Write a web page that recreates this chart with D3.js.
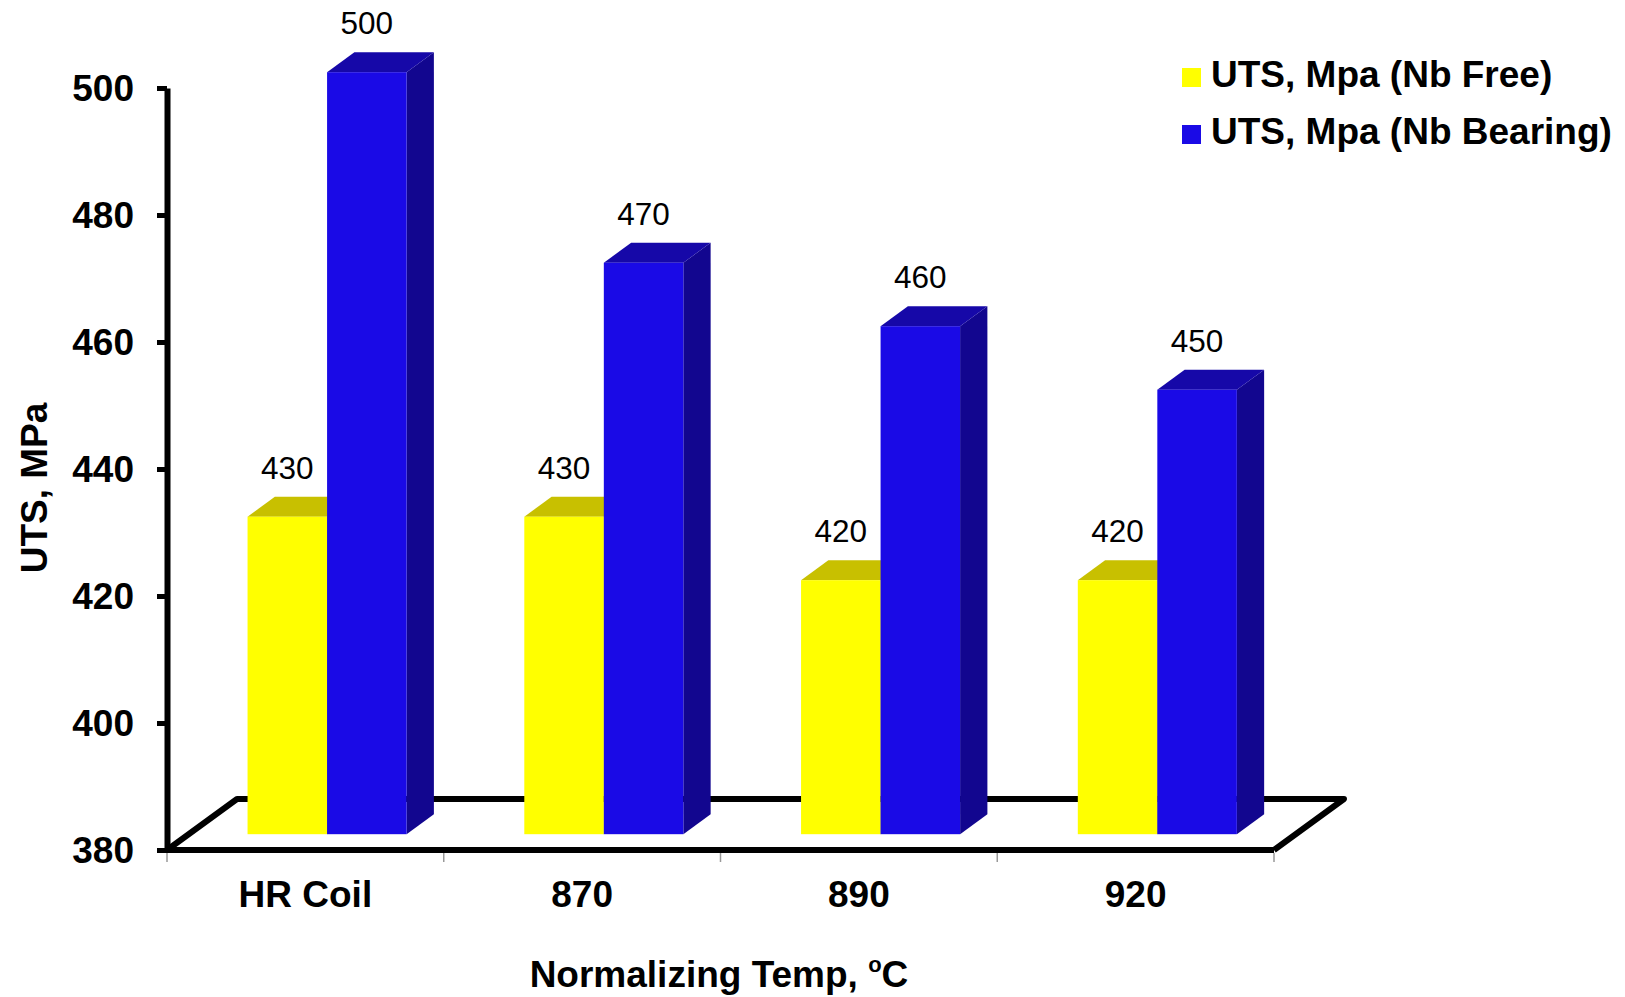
<!DOCTYPE html>
<html>
<head>
<meta charset="utf-8">
<script src="https://cdn.jsdelivr.net/npm/d3@7"></script>
<style>
  html, body { margin: 0; padding: 0; background: #fff; }
  svg { display: block; font-family: "Liberation Sans", Arial, sans-serif; }
</style>
</head>
<body>
<svg id="chart" width="1625" height="997"></svg>
<script>
// Ultimate tensile strength by normalizing temperature
const categories = ["HR Coil", "870", "890", "920"];
const seriesNames = ["UTS, Mpa (Nb Free)", "UTS, Mpa (Nb Bearing)"];
const nbFree = [430, 430, 420, 420];
const nbBearing = [500, 470, 460, 450];
const yTicks = [380, 400, 420, 440, 460, 480, 500];

const seriesValues = [nbFree, nbBearing];
const faceColors = [
  { front: "#ffff00", top: "#c8c000", side: "#a8a000" },
  { front: "#1a0ae6", top: "#1608a8", side: "#12068f" }
];

const svg = d3.select("#chart");
const boldSize = 37;

// plot frame (front plane of the 3-D floor)
const plotLeft = 167, plotRight = 1274, plotBottom = 850, plotTop = 88;
const depth = { dx: 70, dy: -51 };       // floor depth vector
const barFront = 0.31, barBack = 0.70;   // bar position within the depth

const y = d3.scaleLinear().domain([380, 500]).range([plotBottom, plotTop]);
const x = d3.scaleBand().domain(categories).range([plotLeft, plotRight]).padding(0);
const xs = d3.scaleBand().domain(seriesNames).range([0, x.bandwidth()])
  .paddingInner(0).paddingOuter(0.74);

const fx = depth.dx * barFront, fy = depth.dy * barFront;
const bdx = depth.dx * (barBack - barFront), bdy = depth.dy * (barBack - barFront);

// floor outline
svg.append("path")
  .attr("d", `M${plotLeft},${plotBottom} L${plotLeft + depth.dx},${plotBottom + depth.dy} L${plotRight + depth.dx},${plotBottom + depth.dy} L${plotRight},${plotBottom}`)
  .attr("fill", "none").attr("stroke", "#000").attr("stroke-width", 6)
  .attr("stroke-linejoin", "round");

// bars
categories.forEach((c, i) => {
  seriesNames.forEach((s, k) => {
    const v = seriesValues[k][i];
    const x0 = x(c) + xs(s) + fx, x1 = x0 + xs.bandwidth();
    const yt = y(v) + fy, yb = y(380) + fy;
    const col = faceColors[k];
    const g = svg.append("g").attr("class", "bar");
    g.append("polygon")
      .attr("points", [[x1, yt], [x1 + bdx, yt + bdy], [x1 + bdx, yb + bdy], [x1, yb]].join(" "))
      .attr("fill", col.side);
    g.append("polygon")
      .attr("points", [[x0, yt], [x1, yt], [x1 + bdx, yt + bdy], [x0 + bdx, yt + bdy]].join(" "))
      .attr("fill", col.top);
    g.append("rect")
      .attr("x", x0).attr("y", yt).attr("width", x1 - x0).attr("height", yb - yt)
      .attr("fill", col.front);
    g.append("text")
      .attr("x", (x0 + x1) / 2).attr("y", yt + bdy - 18)
      .attr("text-anchor", "middle").attr("font-size", 31.5).attr("fill", "#000")
      .text(v);
  });
});

// front edge of the floor (x axis line)
svg.append("line")
  .attr("x1", plotLeft).attr("x2", plotRight).attr("y1", plotBottom).attr("y2", plotBottom)
  .attr("stroke", "#000").attr("stroke-width", 6);

// category boundary ticks
const bounds = categories.map(c => x(c)).concat([x.range()[1]]);
svg.selectAll(".xtick").data(bounds).join("line")
  .attr("class", "xtick")
  .attr("x1", d => d).attr("x2", d => d)
  .attr("y1", plotBottom + 3).attr("y2", plotBottom + 12)
  .attr("stroke", "#999").attr("stroke-width", 1.5);

// category labels
svg.selectAll(".xlab").data(categories).join("text")
  .attr("class", "xlab")
  .attr("x", d => x(d) + x.bandwidth() / 2).attr("y", 907)
  .attr("text-anchor", "middle").attr("font-size", boldSize).attr("font-weight", "bold")
  .text(d => d);

// y axis
const yAxis = d3.axisLeft(y).tickValues(yTicks).tickSize(10).tickSizeOuter(0).tickPadding(23);
const ya = svg.append("g").attr("transform", `translate(${plotLeft},0)`).call(yAxis);
ya.select(".domain").attr("stroke", "#000").attr("stroke-width", 6);
ya.selectAll(".tick line").attr("stroke", "#000").attr("stroke-width", 5);
ya.selectAll(".tick text")
  .attr("font-size", boldSize).attr("font-weight", "bold").attr("fill", "#000")
  .attr("font-family", "'Liberation Sans', Arial, sans-serif")
  .attr("dy", "0.35em");

// axis titles
svg.append("text")
  .attr("transform", "translate(47,488) rotate(-90)")
  .attr("text-anchor", "middle").attr("font-size", boldSize).attr("font-weight", "bold")
  .text("UTS, MPa");

const xt = svg.append("text")
  .attr("x", 719).attr("y", 987)
  .attr("text-anchor", "middle").attr("font-size", boldSize).attr("font-weight", "bold");
xt.append("tspan").text("Normalizing Temp, ");
xt.append("tspan").attr("font-size", 22).attr("dy", -15).text("o");
xt.append("tspan").attr("dy", 15).text("C");

// legend
const legend = svg.append("g");
seriesNames.forEach((s, k) => {
  const by = 87 + k * 57;
  legend.append("rect")
    .attr("x", 1182).attr("y", by - 19).attr("width", 19).attr("height", 19)
    .attr("fill", faceColors[k].front);
  legend.append("text")
    .attr("x", 1211).attr("y", by)
    .attr("font-size", boldSize).attr("font-weight", "bold")
    .text(s);
});
</script>
</body>
</html>
